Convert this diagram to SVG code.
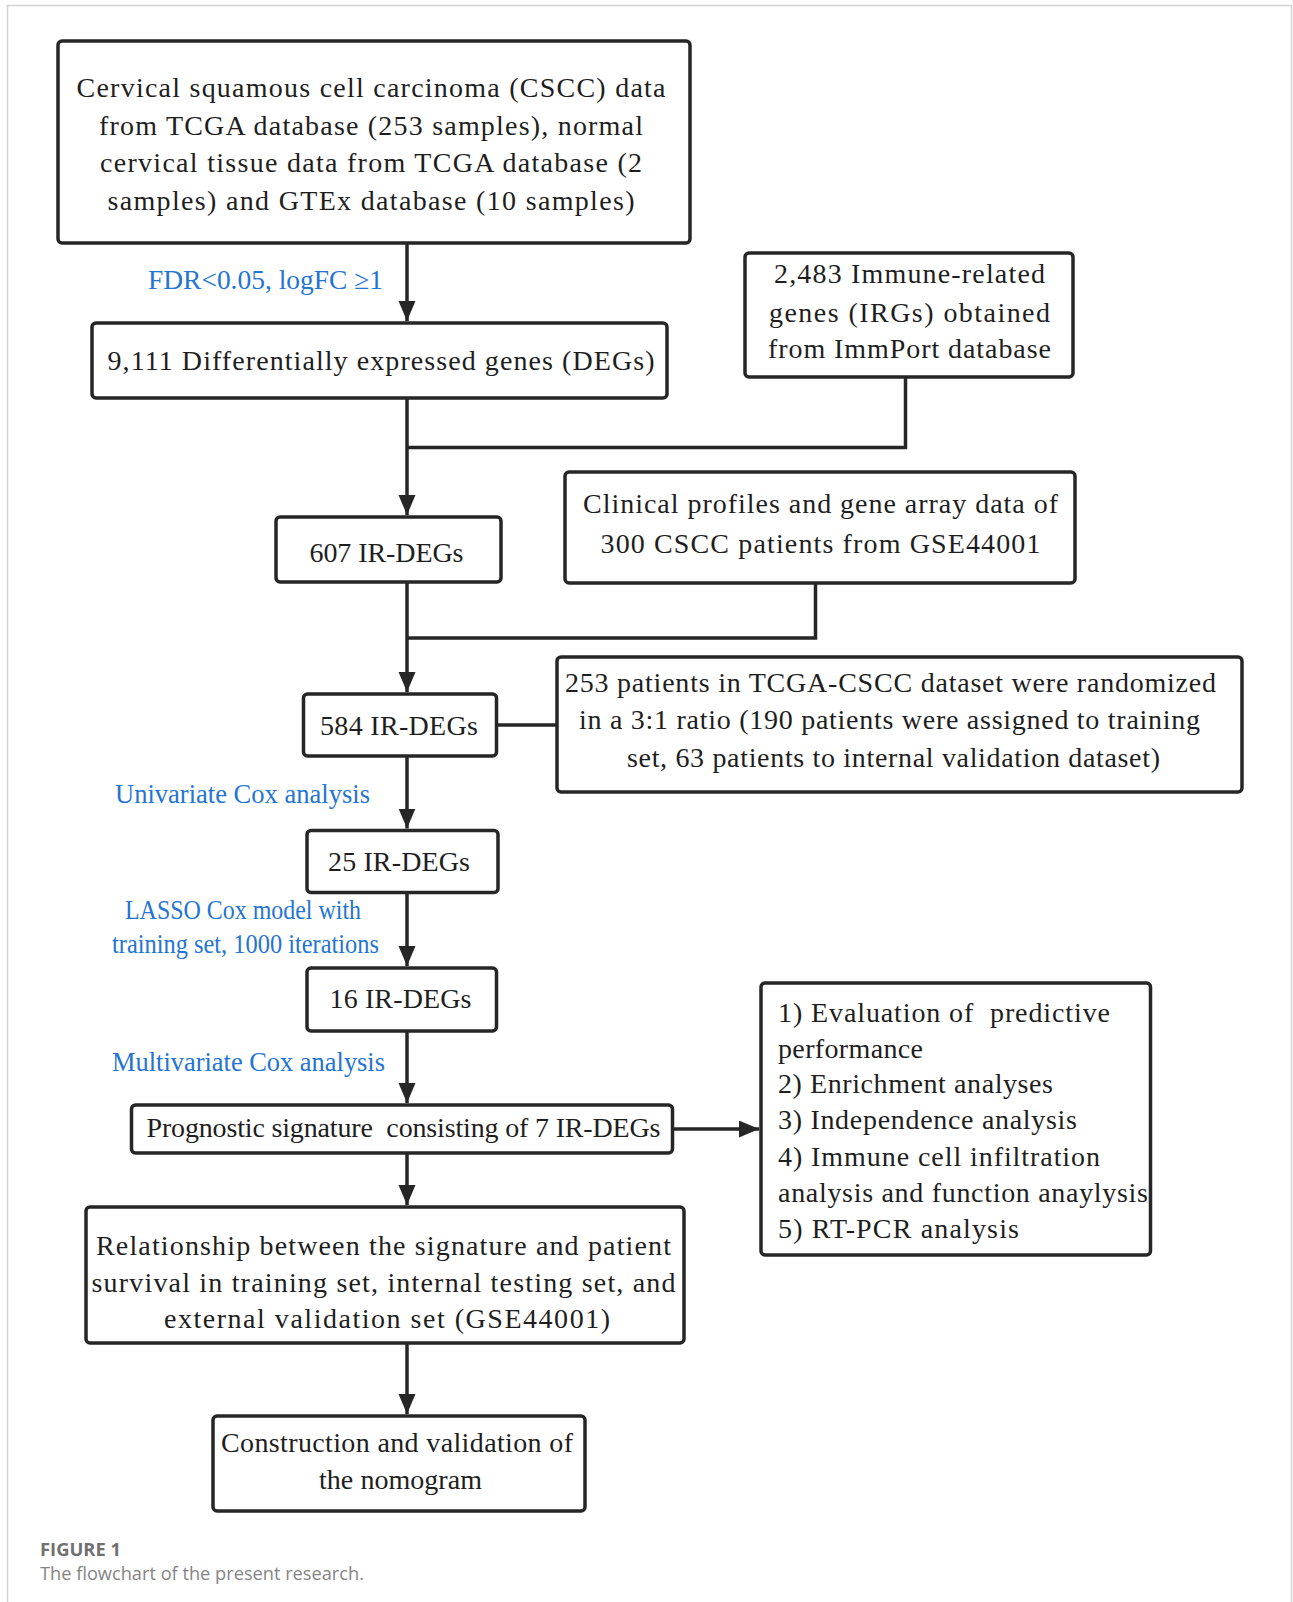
<svg xmlns="http://www.w3.org/2000/svg" width="1293" height="1602" viewBox="0 0 1293 1602">
<style>
.box{fill:#fff;stroke:#262626;stroke-width:3.5}
.t{font-family:"Liberation Serif","Times New Roman",serif;font-size:28px;fill:#1e1e1e}
.m{text-anchor:middle}
.lbl{font-family:"Liberation Serif","Times New Roman",serif;font-size:27px;fill:#2474d4}
.con{fill:none;stroke:#262626;stroke-width:3.5}
.cap1{font-family:"Open Sans","Noto Sans",sans-serif;font-size:18px;font-weight:bold;fill:#707070}
.cap2{font-family:"Open Sans","Noto Sans",sans-serif;font-size:18px;fill:#858585}
</style>
<defs>
<marker id="arr" markerUnits="userSpaceOnUse" markerWidth="22" markerHeight="18" refX="20" refY="8.5" orient="auto">
<path d="M0,0 L20,8.5 L0,17 z" fill="#262626"/>
</marker>
</defs>
<rect x="0" y="0" width="1293" height="1602" fill="#fff"/>
<path d="M7.5,1602 V5.5 H1291.5 V1602" fill="none" stroke="#d4d4d4" stroke-width="1.5"/>

<g id="connectors">
<path class="con" d="M407,243 V321" marker-end="url(#arr)"/>
<path class="con" d="M407,398 V515" marker-end="url(#arr)"/>
<path class="con" d="M905.5,377 V447.5 H407"/>
<path class="con" d="M407,582 V692" marker-end="url(#arr)"/>
<path class="con" d="M815.5,583 V638 H407"/>
<path class="con" d="M496.5,725 H557"/>
<path class="con" d="M407,756 V828.5" marker-end="url(#arr)"/>
<path class="con" d="M407,892.5 V966" marker-end="url(#arr)"/>
<path class="con" d="M407,1031 V1103" marker-end="url(#arr)"/>
<path class="con" d="M672.5,1129 H759" marker-end="url(#arr)"/>
<path class="con" d="M407,1153 V1205" marker-end="url(#arr)"/>
<path class="con" d="M407,1343 V1414" marker-end="url(#arr)"/>
</g>

<g id="labels">
<text class="lbl" x="148" y="289" textLength="235" lengthAdjust="spacingAndGlyphs">FDR&lt;0.05, logFC  ≥1</text>
<text class="lbl" x="115" y="803" textLength="255" lengthAdjust="spacingAndGlyphs">Univariate Cox analysis</text>
<text class="lbl" x="125" y="919" textLength="236" lengthAdjust="spacingAndGlyphs">LASSO Cox model with</text>
<text class="lbl" x="112" y="953" textLength="267" lengthAdjust="spacingAndGlyphs">training set, 1000 iterations</text>
<text class="lbl" x="112" y="1071" textLength="273" lengthAdjust="spacingAndGlyphs">Multivariate Cox analysis</text>
</g>

<g id="node-data">
<rect class="box" x="58" y="41" width="632" height="202" rx="4"/>
<text class="t m" x="371" y="97" textLength="589" lengthAdjust="spacing">Cervical squamous cell carcinoma (CSCC) data</text>
<text class="t m" x="371" y="135" textLength="544" lengthAdjust="spacing">from TCGA database (253 samples), normal</text>
<text class="t m" x="371" y="172" textLength="542" lengthAdjust="spacing">cervical tissue data from TCGA database (2</text>
<text class="t m" x="371" y="210" textLength="527" lengthAdjust="spacing">samples) and GTEx database (10 samples)</text>
</g>

<g id="node-degs">
<rect class="box" x="92" y="323" width="575" height="75" rx="4"/>
<text class="t m" x="381" y="370" textLength="547" lengthAdjust="spacing">9,111 Differentially expressed genes (DEGs)</text>
</g>

<g id="node-irgs">
<rect class="box" x="745" y="253" width="328" height="124" rx="4"/>
<text class="t m" x="909.5" y="283" textLength="271" lengthAdjust="spacing">2,483 Immune-related</text>
<text class="t m" x="909.5" y="321.5" textLength="281" lengthAdjust="spacing">genes (IRGs) obtained</text>
<text class="t m" x="909.5" y="358" textLength="283" lengthAdjust="spacing">from ImmPort database</text>
</g>

<g id="node-607">
<rect class="box" x="276" y="517" width="225" height="65" rx="4"/>
<text class="t m" x="386.5" y="562" textLength="154" lengthAdjust="spacing">607 IR-DEGs</text>
</g>

<g id="node-clinical">
<rect class="box" x="565" y="472" width="510" height="111" rx="4"/>
<text class="t m" x="820.5" y="513" textLength="475" lengthAdjust="spacing">Clinical profiles and gene array data of</text>
<text class="t m" x="820.5" y="552.5" textLength="440" lengthAdjust="spacing">300 CSCC patients from GSE44001</text>
</g>

<g id="node-584">
<rect class="box" x="303.5" y="694" width="193" height="62" rx="4"/>
<text class="t m" x="399" y="735" textLength="158" lengthAdjust="spacing">584 IR-DEGs</text>
</g>

<g id="node-random">
<rect class="box" x="557" y="657" width="685" height="135" rx="4"/>
<text class="t m" x="890.5" y="692" textLength="651" lengthAdjust="spacing">253 patients in TCGA-CSCC dataset were randomized</text>
<text class="t m" x="889.5" y="729" textLength="621" lengthAdjust="spacing">in a 3:1 ratio (190 patients were assigned to training</text>
<text class="t m" x="893.5" y="766.5" textLength="533" lengthAdjust="spacing">set, 63 patients to internal validation dataset)</text>
</g>

<g id="node-25">
<rect class="box" x="307" y="830.5" width="191" height="62" rx="4"/>
<text class="t m" x="399" y="870.5" textLength="142" lengthAdjust="spacing">25 IR-DEGs</text>
</g>

<g id="node-16">
<rect class="box" x="307" y="968" width="189.5" height="63" rx="4"/>
<text class="t m" x="400.5" y="1007.5" textLength="142" lengthAdjust="spacing">16 IR-DEGs</text>
</g>

<g id="node-signature">
<rect class="box" x="131.5" y="1105" width="541" height="48" rx="4"/>
<text class="t m" x="403.5" y="1136.5" textLength="514" lengthAdjust="spacing" style="white-space:pre">Prognostic signature  consisting of 7 IR-DEGs</text>
</g>

<g id="node-analyses">
<rect class="box" x="761" y="983" width="389.5" height="272" rx="4"/>
<text class="t" x="778" y="1021.5" textLength="332" lengthAdjust="spacing" style="white-space:pre">1) Evaluation of  predictive</text>
<text class="t" x="778" y="1057.5" textLength="145" lengthAdjust="spacing">performance</text>
<text class="t" x="778" y="1093" textLength="275" lengthAdjust="spacing">2) Enrichment analyses</text>
<text class="t" x="778" y="1129" textLength="299" lengthAdjust="spacing">3) Independence analysis</text>
<text class="t" x="778" y="1165.5" textLength="322" lengthAdjust="spacing">4) Immune cell infiltration</text>
<text class="t" x="778" y="1201.5" textLength="370" lengthAdjust="spacing">analysis and function anaylysis</text>
<text class="t" x="778" y="1237.5" textLength="241" lengthAdjust="spacing">5) RT-PCR analysis</text>
</g>

<g id="node-relationship">
<rect class="box" x="86" y="1207" width="598" height="136" rx="4"/>
<text class="t m" x="383.5" y="1255" textLength="575" lengthAdjust="spacing">Relationship between the signature and patient</text>
<text class="t m" x="383.5" y="1291.5" textLength="584" lengthAdjust="spacing">survival in training set, internal testing set, and</text>
<text class="t m" x="387" y="1328" textLength="446" lengthAdjust="spacing">external validation set (GSE44001)</text>
</g>

<g id="node-nomogram">
<rect class="box" x="213" y="1416" width="372" height="95" rx="4"/>
<text class="t m" x="397" y="1452" textLength="352" lengthAdjust="spacing">Construction and validation of</text>
<text class="t m" x="400.5" y="1489" textLength="163" lengthAdjust="spacing">the nomogram</text>
</g>

<g id="caption">
<text class="cap1" x="40" y="1556" textLength="81" lengthAdjust="spacingAndGlyphs">FIGURE 1</text>
<text class="cap2" x="40" y="1580" textLength="324" lengthAdjust="spacingAndGlyphs">The flowchart of the present research.</text>
</g>
</svg>
